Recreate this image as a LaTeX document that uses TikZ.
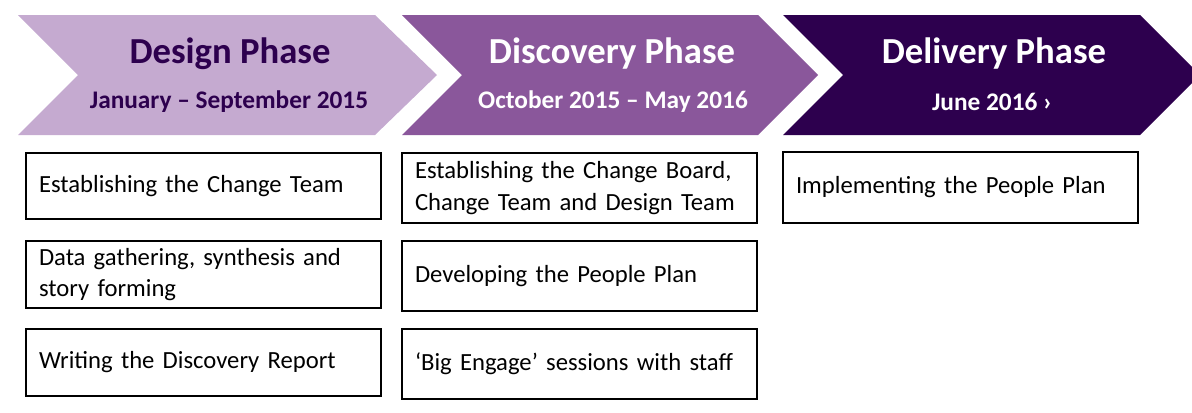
\documentclass[tikz,border=0pt]{standalone}
\usepackage{fontspec}
\setmainfont{Carlito}
\definecolor{lightpurple}{HTML}{C5AAD0}
\definecolor{midpurple}{HTML}{8A579B}
\definecolor{darkpurple}{HTML}{2D004E}
\tikzset{
  phasetitle/.style={font=\bfseries\fontsize{27.5}{30}\selectfont},
  phasedate/.style={font=\bfseries\fontsize{19}{22}\selectfont},
  taskbox/.style={draw, line width=1.5pt, anchor=north west, align=left,
    text width=246.75pt, inner xsep=9.75pt, inner ysep=0pt,
    font=\fontsize{18.5}{23.5}\selectfont},
}
\begin{document}
\begin{tikzpicture}[x=0.75pt, y=-0.75pt, line join=miter]
	\useasboundingbox (0,0) rectangle (1192,412);
	\begin{scope}
		\clip (0,0) rectangle (1192,412);
		\fill[lightpurple] (18,15)--(375,15)--(437,75)--(375,135)--(18,135)--(78,75)--cycle;
		\fill[midpurple] (402,15)--(758,15)--(818,75)--(758,135)--(402,135)--(462,75)--cycle;
		\fill[darkpurple] (783,15)--(1140,15)--(1200,75)--(1140,135)--(783,135)--(843,75)--cycle;
	\end{scope}
	% Phase headings
	\node[phasetitle, text=darkpurple] (design) at (230,54) {Design Phase};
	\node[phasedate, text=darkpurple] (designdate) at (229,102) {January – September 2015};
	\node[phasetitle, text=white] (discovery) at (612,54) {Discovery Phase};
	\node[phasedate, text=white] (discoverydate) at (613,102) {October 2015 – May 2016};
	\node[phasetitle, text=white] (delivery) at (994,54) {Delivery Phase};
	\node[phasedate, text=white] (deliverydate) at (992,102) {June 2016 \textbf{›}};
	% Tasks
	\node[taskbox, minimum height=49.5pt] (changeteam) at (25,152) {Establishing the Change Team};
	\node[taskbox, minimum height=50.25pt] (datagather) at (25,240) {Data gathering, synthesis and\\story forming};
	\node[taskbox, minimum height=50.25pt] (report) at (25,328) {Writing the Discovery Report};
	\node[taskbox, minimum height=52.5pt] (changeboard) at (401,152) {Establishing the Change Board,\\Change Team and Design Team};
	\node[taskbox, minimum height=52.5pt] (peopleplan) at (401,240) {Developing the People Plan};
	\node[taskbox, minimum height=52.5pt] (bigengage) at (401,328) {‘Big Engage’ sessions with staff};
	\node[taskbox, minimum height=53.25pt] (implement) at (782,151) {Implementing the People Plan};
\end{tikzpicture}
\end{document}
